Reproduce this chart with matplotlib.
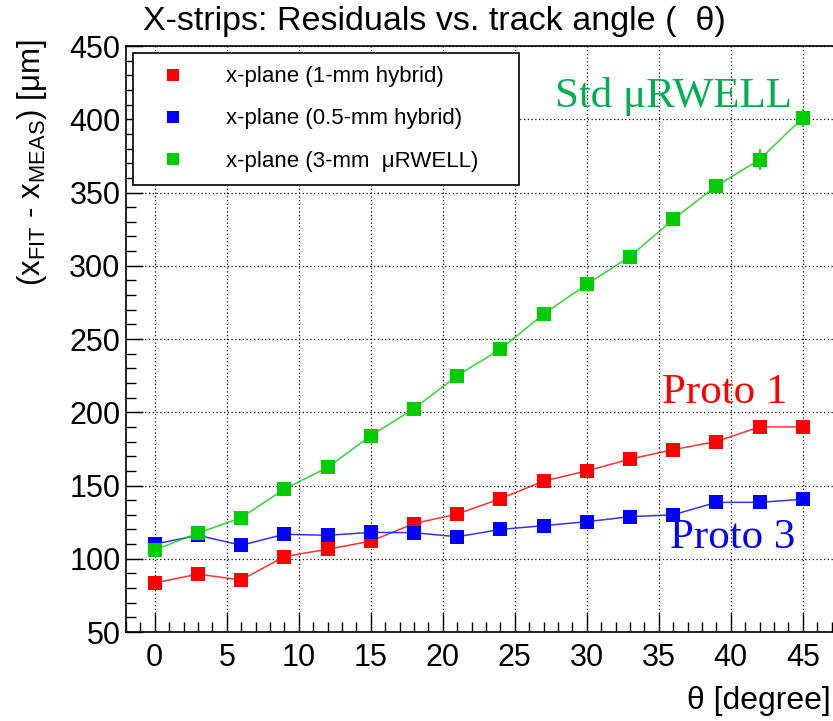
import numpy as np
import matplotlib.pyplot as plt
from matplotlib.ticker import MultipleLocator
from matplotlib.lines import Line2D

plt.rcParams['font.family'] = ['Liberation Sans', 'DejaVu Sans']
plt.rcParams['mathtext.fontset'] = 'custom'
plt.rcParams['mathtext.rm'] = 'Liberation Sans'
plt.rcParams['mathtext.it'] = 'Liberation Sans'

# data
theta = [0, 3, 6, 9, 12, 15, 18, 21, 24, 27, 30, 33, 36, 39, 42, 45]

res_1mm = [83.5, 89.5, 85.5, 101.5, 106.5, 112, 124, 130.5, 141, 153, 160, 168, 174.5, 180, 190, 190]
res_05mm = [110, 116, 109.2, 116.7, 116, 118, 117.8, 115, 120, 122.6, 125.3, 128.7, 130, 138.5, 138.5, 140.6]
res_3mm = [106, 117.5, 128, 147.6, 162.3, 184, 202.5, 225, 243, 267, 287.3, 306.3, 331.7, 354.5, 372.5, 401]

err_1mm = [0.8, 0.8, 0.8, 0.8, 0.8, 0.8, 0.8, 0.8, 0.8, 0.8, 0.8, 0.8, 0.8, 0.8, 0.8, 0.8]
err_05mm = [0.8, 0.8, 0.8, 0.8, 0.8, 0.8, 2.5, 0.8, 0.8, 0.8, 0.8, 0.8, 0.8, 0.8, 0.8, 0.8]
err_3mm = [1, 1, 1, 1, 1, 1, 1, 1, 1, 1.2, 1.5, 2.5, 4.3, 5, 7, 6]

labels = ['x-plane (1-mm hybrid)', 'x-plane (0.5-mm hybrid)', 'x-plane (3-mm  \u03bcRWELL)']

red = '#ff0000'
blue = '#0000ff'
green = '#00cc00'

fig = plt.figure(figsize=(8.33, 7.21), dpi=100)
ax = fig.add_axes([126 / 833, 1 - 632 / 721, 720 / 833, 586 / 721])

series = [(res_1mm, err_1mm, red), (res_05mm, err_05mm, blue), (res_3mm, err_3mm, green)]
handles = []
for (vals, errs, col), lab in zip(series, labels):
    ax.plot(theta, vals, '-', color=col, lw=1.1, alpha=0.8, zorder=3)
    ax.errorbar(theta, vals, yerr=errs, fmt='s', color=col, ms=10, mew=0,
                elinewidth=1.2, capsize=3, capthick=1.2, zorder=4)
    handles.append(Line2D([], [], ls='none', marker='s', color=col, ms=8, mew=0, label=lab))

ax.set_xlim(-2, 48)
ax.set_ylim(50, 450)
ax.xaxis.set_major_locator(MultipleLocator(5))
ax.xaxis.set_minor_locator(MultipleLocator(1))
ax.yaxis.set_major_locator(MultipleLocator(50))
ax.yaxis.set_minor_locator(MultipleLocator(10))
ax.tick_params(which='both', direction='in', top=False, right=False, width=1)
ax.tick_params(which='major', length=14, labelsize=22, pad=8)
ax.tick_params(axis='y', which='major', length=12, pad=4)
ax.tick_params(which='minor', length=7)
ax.grid(True, which='major', color='black', ls=(0, (1, 2)), lw=0.9)
for s in ax.spines.values():
    s.set_linewidth(1.2)

fig.text(0.521, 0.970, 'X-strips: Residuals vs. track angle (  \u03b8)',
         ha='center', va='center', fontsize=24.5)
fig.text(0.997, 0.028, '\u03b8 [degree]', ha='right', va='center', fontsize=23)
fig.text(0.039, 0.945, '(x$_{\\mathrm{FIT}}$ - x$_{\\mathrm{MEAS}}$) [\u03bcm]', rotation=90,
         ha='center', va='top', fontsize=22.5)

ax.annotate('Std \u03bcRWELL', xy=(555, 721 - 107), xycoords='figure pixels',
            fontsize=31, color='#00b050', family='Liberation Serif', va='baseline')
ax.annotate('Proto 1', xy=(662, 721 - 403), xycoords='figure pixels',
            fontsize=31, color=red, family='Liberation Serif', va='baseline')
ax.annotate('Proto 3', xy=(670, 721 - 548), xycoords='figure pixels',
            fontsize=31, color=blue, family='Liberation Serif', va='baseline')

leg = ax.legend(handles=handles, loc='upper left',
                bbox_to_anchor=(7 / 720, 1 - 134 / 586, 386 / 720, 127 / 586),
                mode='expand', fontsize=16, frameon=True, fancybox=False, framealpha=1,
                edgecolor='black', borderpad=0.6, labelspacing=0.95, handletextpad=1.2,
                handlelength=2.4, borderaxespad=0)
leg.get_frame().set_linewidth(1.2)

plt.savefig('out.png', dpi=100)
